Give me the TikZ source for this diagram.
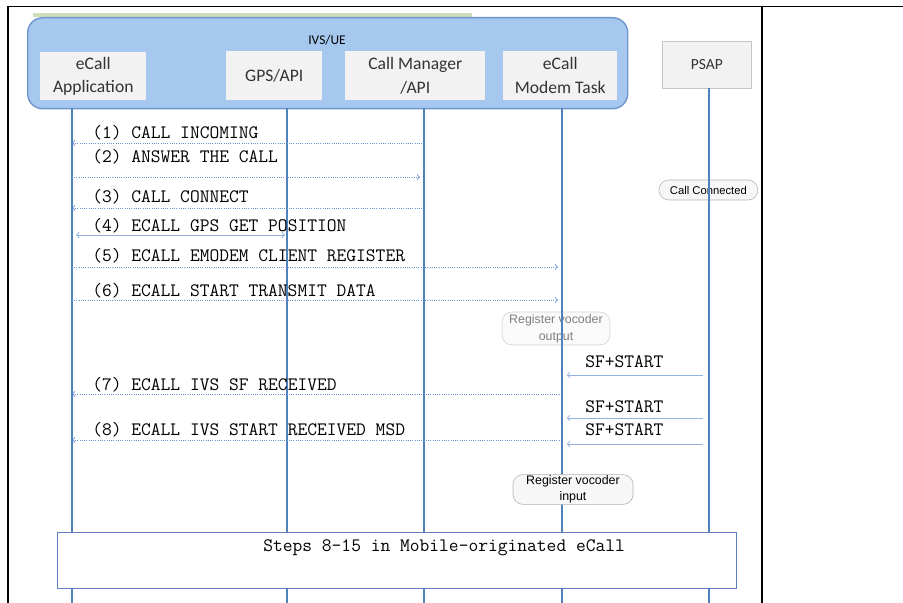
\documentclass[tikz,border=0pt]{standalone}
\usepackage{fontspec}
\usepackage{xcolor}
\usepackage{tikz}
\usetikzlibrary{arrows}
\usetikzlibrary{shapes,calc,positioning}
\newfontfamily\calfont{Carlito}
\newfontfamily\arialfont{Liberation Sans}
\definecolor{ivsblue}{RGB}{166,200,238}
\definecolor{ivsedge}{RGB}{110,150,205}
\definecolor{boxgray}{RGB}{242,242,242}
\definecolor{lifeblue}{RGB}{79,129,189}
\definecolor{msgblue}{RGB}{105,145,210}
\definecolor{sfblue}{RGB}{145,178,222}
\definecolor{bargreen}{RGB}{205,222,185}
\definecolor{stepblue}{RGB}{95,125,195}
\tikzset{
  box/.style={fill=boxgray, align=center, inner sep=0pt, text=black!80, font=\calfont\fontsize{12.5}{17}\selectfont},
  lifeline/.style={lifeblue, line width=0.8pt},
  msg/.style={msgblue, densely dotted, line width=0.6pt},
  sf/.style={sfblue, line width=0.7pt},
  lbl/.style={font=\ttfamily\fontsize{13.5}{15}\selectfont, anchor=west, inner sep=0pt},
  bubble/.style={draw=gray!60, fill=gray!6, rounded corners=0.25cm, align=center, inner sep=1pt},
}
\begin{document}
\begin{tikzpicture}
\useasboundingbox (0,0) rectangle (22.575,-15.075);

\coordinate(O1) at (0,0);

% frame
\draw[line width=1pt] (0.2,-15.075) -- (0.2,-0.16) -- (22.575,-0.16);
\draw[line width=1pt] (19.05,-0.16) -- (19.05,-15.075);
\draw[bargreen, line width=2.4pt] (0.825,-0.375) -- (11.8,-0.375);

\node[below right=0.425cm and 0.675cm of O1, draw=ivsedge, fill=ivsblue, line width=1pt, rounded corners=0.375cm, minimum width=15cm, minimum height=2.275cm](ivs) {};
\node[font=\calfont\fontsize{9.5}{11}\selectfont] (ivsl) at (8.175,-1.0) {IVS/UE};

\node[below right=1.3cm and 1.0cm of O1, box, minimum width=2.65cm, minimum height=1.2cm](app) {eCall\\Application};
\node[below right=1.275cm and 5.65cm of O1, box, minimum width=2.4cm, minimum height=1.225cm](gps) {GPS/API};
\node[below right=1.275cm and 8.625cm of O1, box, minimum width=3.5cm, minimum height=1.225cm](cm) {Call Manager\\/API};
\node[below right=1.275cm and 12.575cm of O1, box, minimum width=2.85cm, minimum height=1.225cm](modem) {eCall\\Modem Task};
\node[below right=1.025cm and 16.55cm of O1, box, draw=gray!45, minimum width=2.225cm, minimum height=1.175cm, font=\calfont\fontsize{11}{13}\selectfont](psap) {PSAP};

% bubbles under the lifelines
\node[bubble, minimum width=2.475cm, minimum height=0.5cm, font=\arialfont\fontsize{8}{9}\selectfont](conn) at (17.71,-4.75) {Call Connected};
\node[bubble, draw=gray!35, fill=gray!4, text=gray, minimum width=2.7cm, minimum height=0.825cm, font=\arialfont\fontsize{8.8}{12}\selectfont](vocout) at (13.9,-8.2125) {Register vocoder\\output};

% lifelines
\coordinate(appT) at (1.8,-2.7);
\coordinate(appB) at (1.8,-15.075);
\coordinate(gpsT) at (7.175,-2.7);
\coordinate(gpsB) at (7.175,-15.075);
\coordinate(cmT) at (10.6,-2.7);
\coordinate(cmB) at (10.6,-15.075);
\coordinate(modemT) at (14.05,-2.7);
\coordinate(modemB) at (14.05,-15.075);
\coordinate(psapT) at (17.725,-2.2);
\coordinate(psapB) at (17.725,-15.075);
\draw[lifeline] (appT) -- (appB);
\draw[lifeline] (gpsT) -- (gpsB);
\draw[lifeline] (cmT) -- (cmB);
\draw[lifeline] (modemT) -- (modemB);
\draw[lifeline] (psapT) -- (psapB);

% messages
\coordinate(y1) at (0,-3.575);
\coordinate(y2) at (0,-4.425);
\coordinate(y3) at (0,-5.2);
\coordinate(y4) at (0,-5.875);
\coordinate(y5) at (0,-6.675);
\coordinate(y6) at (0,-7.5);
\coordinate(y7) at (0,-9.85);
\coordinate(y8) at (0,-11.0);

\node[lbl](l1) at (2.3,-3.325) {(1) CALL INCOMING};
\node[lbl](l2) at (2.3,-3.925) {(2) ANSWER THE CALL};
\node[lbl](l3) at (2.3,-4.925) {(3) CALL CONNECT};
\node[lbl](l4) at (2.3,-5.65) {(4) ECALL GPS GET POSITION};
\node[lbl](l5) at (2.3,-6.4) {(5) ECALL EMODEM CLIENT REGISTER};
\node[lbl](l6) at (2.3,-7.275) {(6) ECALL START TRANSMIT DATA};
\node[lbl](l7) at (2.3,-9.625) {(7) ECALL IVS SF RECEIVED};
\node[lbl](l8) at (2.3,-10.75) {(8) ECALL IVS START RECEIVED MSD};

\draw[msg, <-] (appT |- y1) -- (cmT |- y1);
\draw[msg, ->, shorten >=0.1cm] (appT |- y2) -- (cmT |- y2);
\draw[msg, <-] (appT |- y3) -- (cmT |- y3);
\draw[sf, <->, shorten <=0.1cm, shorten >=0.05cm] (appT |- y4) -- (gpsT |- y4);
\draw[msg, ->, shorten >=0.1cm] (appT |- y5) -- (modemT |- y5);
\draw[msg, ->, shorten >=0.1cm] (appT |- y6) -- (modemT |- y6);
\draw[msg, <-] (appT |- y7) -- (modemT |- y7);
\draw[msg, <-] (appT |- y8) -- (modemT |- y8);

% PSAP side
\coordinate(s1) at (0,-9.375);
\coordinate(s2) at (0,-10.45);
\coordinate(s3) at (0,-11.1);
\node[lbl](sf1) at (14.625,-9.05) {SF+START};
\node[lbl](sf2) at (14.625,-10.175) {SF+START};
\node[lbl](sf3) at (14.625,-10.75) {SF+START};
\draw[sf, ->, shorten <=0.15cm, shorten >=0.12cm] (psapT |- s1) -- (modemT |- s1);
\draw[sf, ->, shorten <=0.15cm, shorten >=0.12cm] (psapT |- s2) -- (modemT |- s2);
\draw[sf, ->, shorten <=0.15cm, shorten >=0.12cm] (psapT |- s3) -- (modemT |- s3);

\node[bubble, minimum width=3.0cm, minimum height=0.625cm, font=\arialfont\fontsize{8.8}{11}\selectfont](vocin) at (14.325,-12.2375) {Register vocoder\\input};

\node[below right=13.3cm and 1.425cm of O1, draw=stepblue, fill=white, line width=0.9pt, minimum width=16.975cm, minimum height=1.4cm](steps) {};
\node[lbl](stepsl) at (6.575,-13.7) {Steps 8-15 in Mobile-originated eCall};
\end{tikzpicture}
\end{document}
